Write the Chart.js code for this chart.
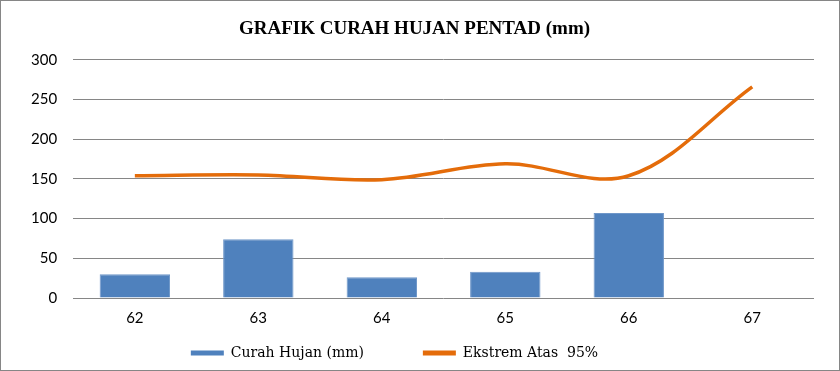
<!DOCTYPE html>
<html>
<head>
<meta charset="utf-8">
<script src="https://cdn.jsdelivr.net/npm/chart.js@4/dist/chart.umd.min.js"></script>
<style>
  html, body { margin: 0; padding: 0; background: #fff; }
  #wrap { width: 840px; height: 371px; box-sizing: border-box; border: 1px solid #868686; }
</style>
</head>
<body>
<div id="wrap"><canvas id="chart" width="838" height="369"></canvas></div>
<script>
// categories (pentad)
var pentads = ["62", "63", "64", "65", "66", "67"];
// rainfall per pentad (mm)
var curahHujan = [30, 74, 26, 33, 107, null];
// upper extreme 95%
var ekstremAtas = [154, 155, 149, 169, 154, 266];
var yTicks = [0, 50, 100, 150, 200, 250, 300];

// extra space after each legend text, Excel leaves a wide gap
var legendGap = ['           ', '         '];

var ctx = document.getElementById('chart').getContext('2d');
new Chart(ctx, {
    type: 'bar',
    data: {
        labels: pentads,
        datasets: [{
            label: 'Curah Hujan (mm)',
            data: curahHujan,
            backgroundColor: '#4F81BD',
            borderColor: '#6F97C9',
            borderWidth: 1,
            categoryPercentage: 1,
            barPercentage: 0.57
        }, {
            type: 'line',
            label: 'Ekstrem Atas  95%',
            data: ekstremAtas,
            borderColor: '#E46C0A',
            backgroundColor: '#E46C0A',
            borderWidth: 3.5,
            pointRadius: 0,
            tension: 0.35,
            fill: false
        }]
    },
    options: {
        responsive: false,
        animation: false,
        layout: { padding: { left: 14, right: 25, top: 8, bottom: 0 } },
        plugins: {
            title: {
                display: true,
                text: 'GRAFIK CURAH HUJAN PENTAD (mm)',
                color: '#000',
                font: { family: 'Liberation Serif', size: 19, weight: 'bold' },
                padding: { top: 9, bottom: 19 }
            },
            legend: {
                position: 'bottom',
                labels: {
                    color: '#000',
                    font: { family: 'DejaVu Serif', size: 14 },
                    boxWidth: 33,
                    boxHeight: 5,
                    padding: 10,
                    generateLabels: function (chart) {
                        var items = Chart.defaults.plugins.legend.labels.generateLabels(chart);
                        items.forEach(function (it, i) {
                            it.text = it.text + legendGap[i];
                            it.lineWidth = 0;
                        });
                        return items;
                    }
                }
            },
            tooltip: { enabled: false }
        },
        scales: {
            x: {
                grid: { display: false },
                border: { display: false },
                ticks: { color: '#000', font: { family: 'Lato', size: 15 }, padding: 3 },
                afterFit: function (scale) { scale.height += 6; }
            },
            y: {
                min: 0,
                max: 300,
                afterBuildTicks: function (axis) {
                    axis.ticks = yTicks.map(function (v) { return { value: v }; });
                },
                grid: { color: '#868686', lineWidth: 1, drawTicks: false },
                border: { display: false },
                ticks: { color: '#000', font: { family: 'Lato', size: 15 }, padding: 16 }
            }
        }
    }
});
</script>
</body>
</html>
